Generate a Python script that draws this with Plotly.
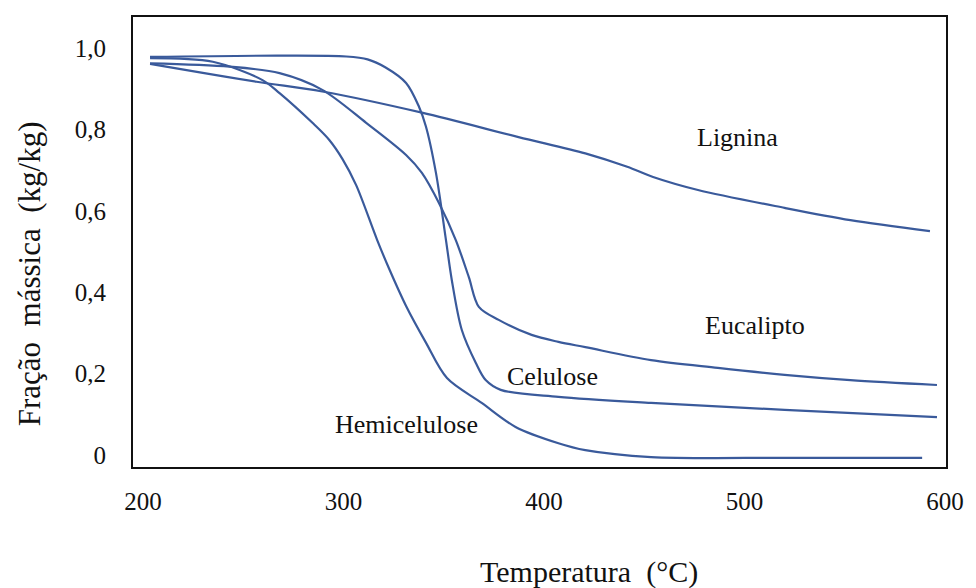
import plotly.graph_objects as go

# ---- data ----
lignina_T = [203.5, 256.6, 289.4, 339.1, 387.3, 420.6, 441.5, 454.4, 476.8, 520.0, 552.8, 592.5]
lignina_v = [0.961, 0.917, 0.893, 0.841, 0.781, 0.741, 0.708, 0.683, 0.651, 0.607, 0.577, 0.550]

celulose_T = [203.5, 268.0, 301.4, 312.0, 321.0, 331.2, 337.6, 341.1, 346.1, 351.1, 354.0, 359.0, 366.0,
              370.9, 378.4, 407.2, 453.4, 520.0, 596.0]
celulose_v = [0.978, 0.981, 0.979, 0.972, 0.952, 0.914, 0.856, 0.807, 0.693, 0.528, 0.430, 0.307, 0.226,
              0.184, 0.160, 0.143, 0.128, 0.111, 0.093]

hemi_T = [203.5, 234.8, 259.6, 268.1, 284.5, 292.9, 299.5, 306.3, 316.8, 322.7, 331.2, 341.1, 351.6,
          368.9, 385.8, 407.2, 420.6, 453.4, 520.0, 588.6]
hemi_v = [0.975, 0.966, 0.921, 0.889, 0.816, 0.774, 0.727, 0.663, 0.528, 0.458, 0.366, 0.276, 0.189,
          0.128, 0.069, 0.029, 0.012, -0.005, -0.007, -0.007]

euca_T = [203.5, 243.2, 268.1, 289.4, 311.3, 331.2, 339.1, 347.6, 356.0, 362.5, 367.5, 377.4,
          393.8, 407.2, 420.6, 453.4, 486.7, 520.0, 552.8, 596.0]
euca_v = [0.962, 0.954, 0.938, 0.897, 0.816, 0.737, 0.693, 0.619, 0.528, 0.437, 0.364, 0.332,
          0.295, 0.278, 0.265, 0.233, 0.214, 0.197, 0.184, 0.172]

x_ticks = [200, 300, 400, 500, 600]
x_ticklabels = ["200", "300", "400", "500", "600"]
y_ticks = [1.0, 0.8, 0.6, 0.4, 0.2, 0.0]
y_ticklabels = ["1,0", "0,8", "0,6", "0,4", "0,2", "0"]

labels = ["Lignina", "Eucalipto", "Celulose", "Hemicelulose"]
label_T = [496.6, 505.1, 404.2, 331.2]
label_v = [0.781, 0.317, 0.194, 0.074]

# ---- style ----
LINE = "#3A5A9B"
FONT = "Liberation Serif, Times New Roman, serif"
TXT = "#111"

fig = go.Figure()
for T, v, name in [(lignina_T, lignina_v, "Lignina"),
                   (euca_T, euca_v, "Eucalipto"),
                   (celulose_T, celulose_v, "Celulose"),
                   (hemi_T, hemi_v, "Hemicelulose")]:
    fig.add_trace(go.Scatter(x=T, y=v, mode="lines", name=name,
                             line=dict(color=LINE, width=2.2, shape="spline", smoothing=0.9),
                             showlegend=False, hoverinfo="skip"))

for text, tx, ty in zip(labels, label_T, label_v):
    fig.add_annotation(x=tx, y=ty, xref="x", yref="y", text=text, showarrow=False,
                       xanchor="center", yanchor="middle",
                       font=dict(family=FONT, size=26, color=TXT))

L, R, T_, B = 133, 28, 17, 121
W, H = 976, 588
pw = W - L - R
ph = H - T_ - B


def px_to_paper(xp, yp):
    return (xp - L) / pw, (H - B - yp) / ph


ax, ay = px_to_paper(590, 572)
fig.add_annotation(x=ax, y=ay, xref="paper", yref="paper", text="Temperatura\u00a0 (°C)",
                   xanchor="center", yanchor="middle", showarrow=False,
                   font=dict(family=FONT, size=30, color=TXT))

yx, yy = px_to_paper(29, 274)
fig.add_annotation(x=yx, y=yy, xref="paper", yref="paper", text="Fração\u00a0 mássica\u00a0 (kg/kg)",
                   xanchor="center", yanchor="middle", textangle=-90, showarrow=False,
                   font=dict(family=FONT, size=31, color=TXT))

fig.update_layout(
    width=W, height=H,
    margin=dict(l=L, r=R, t=T_, b=B),
    paper_bgcolor="white", plot_bgcolor="white",
    font=dict(family=FONT, color=TXT),
    xaxis=dict(range=[195, 600.5], tickvals=x_ticks, ticktext=x_ticklabels,
               showgrid=False, zeroline=False, showline=True, mirror=True,
               linecolor=TXT, linewidth=2, ticks="", ticklabelstandoff=11,
               tickfont=dict(family=FONT, size=25, color=TXT)),
    yaxis=dict(range=[-0.0295, 1.076], tickvals=y_ticks, ticktext=y_ticklabels,
               showgrid=False, zeroline=False, showline=True, mirror=True,
               linecolor=TXT, linewidth=2, ticks="", ticklabelstandoff=20,
               tickfont=dict(family=FONT, size=25, color=TXT)),
)

fig.write_html("out.html", config={"displayModeBar": False})
